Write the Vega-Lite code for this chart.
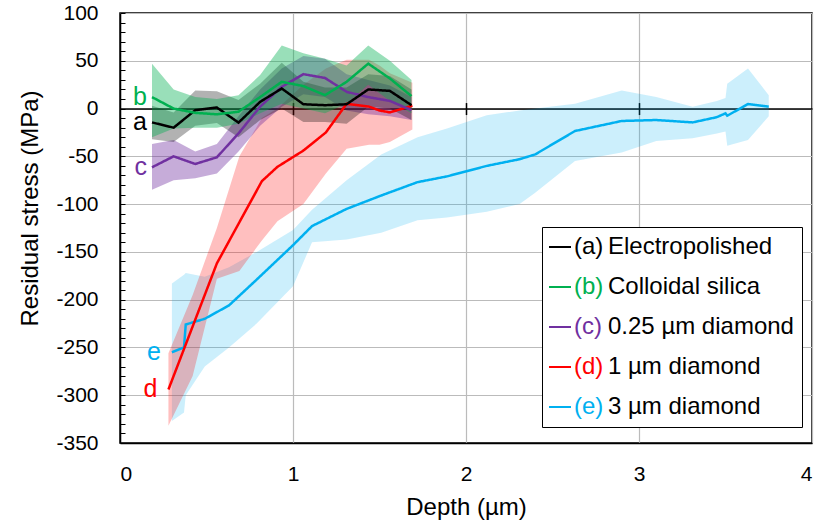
{
  "$schema": "https://vega.github.io/schema/vega-lite/v6.json",
  "width": 692,
  "height": 430,
  "autosize": {"type": "none"},
  "padding": {"left": 120, "top": 13, "right": 7, "bottom": 86},
  "background": "white",
  "config": {
    "view": {"stroke": "black", "strokeWidth": 1.5},
    "font": "Liberation Sans",
    "axis": {"labelFont": "Liberation Sans", "titleFont": "Liberation Sans", "labelColor": "#000000", "titleColor": "#000000", "titleFontWeight": "normal"},
    "legend": {"labelFont": "Liberation Sans", "titleFont": "Liberation Sans"}
  },
  "data": {
    "values": [
      {"s": "e", "x": 0.30, "y": -255, "lo": -327, "hi": -183},
      {"s": "e", "x": 0.37, "y": -250, "lo": -318, "hi": -174},
      {"s": "e", "x": 0.38, "y": -226, "lo": -300, "hi": -172},
      {"s": "e", "x": 0.49, "y": -220, "lo": -270, "hi": -176},
      {"s": "e", "x": 0.63, "y": -206, "lo": -250, "hi": -166},
      {"s": "e", "x": 0.79, "y": -179, "lo": -225, "hi": -150},
      {"s": "e", "x": 1.00, "y": -143, "lo": -186, "hi": -127},
      {"s": "e", "x": 1.11, "y": -123, "lo": -140, "hi": -106},
      {"s": "e", "x": 1.31, "y": -105, "lo": -137, "hi": -75},
      {"s": "e", "x": 1.51, "y": -91, "lo": -130, "hi": -48},
      {"s": "e", "x": 1.72, "y": -77, "lo": -117, "hi": -30},
      {"s": "e", "x": 1.89, "y": -71, "lo": -114, "hi": -21},
      {"s": "e", "x": 2.12, "y": -60, "lo": -108, "hi": -7},
      {"s": "e", "x": 2.31, "y": -53, "lo": -100, "hi": -2},
      {"s": "e", "x": 2.40, "y": -48, "lo": -88, "hi": 0},
      {"s": "e", "x": 2.63, "y": -23.5, "lo": -55, "hi": 5},
      {"s": "e", "x": 2.90, "y": -13, "lo": -46, "hi": 19},
      {"s": "e", "x": 3.10, "y": -12, "lo": -34, "hi": 12},
      {"s": "e", "x": 3.31, "y": -14.5, "lo": -31, "hi": 2},
      {"s": "e", "x": 3.45, "y": -9, "lo": -26, "hi": 8},
      {"s": "e", "x": 3.50, "y": -5, "lo": -24, "hi": 11},
      {"s": "e", "x": 3.51, "y": -7.5, "lo": -39, "hi": 26},
      {"s": "e", "x": 3.63, "y": 4.7, "lo": -33, "hi": 42},
      {"s": "e", "x": 3.75, "y": 2, "lo": -8, "hi": 14},
      {"s": "d", "x": 0.28, "y": -294, "lo": -332, "hi": -256},
      {"s": "d", "x": 0.42, "y": -228, "lo": -280, "hi": -195},
      {"s": "d", "x": 0.56, "y": -162, "lo": -178, "hi": -125},
      {"s": "d", "x": 0.69, "y": -119, "lo": -170, "hi": -50},
      {"s": "d", "x": 0.82, "y": -76, "lo": -138, "hi": -10},
      {"s": "d", "x": 0.91, "y": -61, "lo": -118, "hi": 0},
      {"s": "d", "x": 1.06, "y": -44, "lo": -100, "hi": 25},
      {"s": "d", "x": 1.19, "y": -25, "lo": -68, "hi": 42},
      {"s": "d", "x": 1.31, "y": 5, "lo": -42, "hi": 51},
      {"s": "d", "x": 1.44, "y": 2, "lo": -38, "hi": 51},
      {"s": "d", "x": 1.50, "y": -2, "lo": -38, "hi": 45},
      {"s": "d", "x": 1.56, "y": -4, "lo": -35, "hi": 37},
      {"s": "d", "x": 1.69, "y": 3, "lo": -22, "hi": 27},
      {"s": "c", "x": 0.185, "y": -61.5, "lo": -85, "hi": -37},
      {"s": "c", "x": 0.31, "y": -50, "lo": -75, "hi": -33},
      {"s": "c", "x": 0.435, "y": -58, "lo": -73, "hi": -45},
      {"s": "c", "x": 0.56, "y": -51, "lo": -68, "hi": -37},
      {"s": "c", "x": 0.685, "y": -26, "lo": -45, "hi": -8},
      {"s": "c", "x": 0.81, "y": 2, "lo": -18, "hi": 20},
      {"s": "c", "x": 0.935, "y": 22.7, "lo": 2, "hi": 42},
      {"s": "c", "x": 1.06, "y": 36, "lo": 15, "hi": 55},
      {"s": "c", "x": 1.185, "y": 32, "lo": 12, "hi": 52},
      {"s": "c", "x": 1.31, "y": 17.5, "lo": -2, "hi": 36},
      {"s": "c", "x": 1.435, "y": 12, "lo": -6, "hi": 30},
      {"s": "c", "x": 1.56, "y": 8, "lo": -8, "hi": 24},
      {"s": "c", "x": 1.685, "y": -1.7, "lo": -12, "hi": 12},
      {"s": "a", "x": 0.185, "y": -14.5, "lo": -32, "hi": 3},
      {"s": "a", "x": 0.31, "y": -20, "lo": -35, "hi": -4},
      {"s": "a", "x": 0.435, "y": -1.7, "lo": -18, "hi": 19},
      {"s": "a", "x": 0.56, "y": 1.1, "lo": -15, "hi": 18},
      {"s": "a", "x": 0.685, "y": -14.7, "lo": -30, "hi": 9},
      {"s": "a", "x": 0.81, "y": 7, "lo": -12, "hi": 26},
      {"s": "a", "x": 0.935, "y": 21, "lo": 0, "hi": 48},
      {"s": "a", "x": 1.06, "y": 4.5, "lo": -14, "hi": 28},
      {"s": "a", "x": 1.185, "y": 3.5, "lo": -14, "hi": 22},
      {"s": "a", "x": 1.31, "y": 4.5, "lo": -16, "hi": 22},
      {"s": "a", "x": 1.435, "y": 20, "lo": 2, "hi": 36},
      {"s": "a", "x": 1.56, "y": 18.5, "lo": 0, "hi": 34},
      {"s": "a", "x": 1.685, "y": 3.5, "lo": -12, "hi": 20},
      {"s": "b", "x": 0.185, "y": 12, "lo": -30, "hi": 47},
      {"s": "b", "x": 0.31, "y": 0, "lo": -21, "hi": 20},
      {"s": "b", "x": 0.435, "y": -4.5, "lo": -20, "hi": 12},
      {"s": "b", "x": 0.56, "y": -6, "lo": -20, "hi": 10},
      {"s": "b", "x": 0.685, "y": -3.3, "lo": -16, "hi": 14},
      {"s": "b", "x": 0.81, "y": 12, "lo": -5, "hi": 35},
      {"s": "b", "x": 0.935, "y": 28, "lo": 5, "hi": 66},
      {"s": "b", "x": 1.06, "y": 23.5, "lo": 0, "hi": 58},
      {"s": "b", "x": 1.185, "y": 14, "lo": -5, "hi": 52},
      {"s": "b", "x": 1.31, "y": 28, "lo": 5, "hi": 45},
      {"s": "b", "x": 1.435, "y": 47, "lo": 25, "hi": 66},
      {"s": "b", "x": 1.56, "y": 31.5, "lo": 8, "hi": 50},
      {"s": "b", "x": 1.685, "y": 13, "lo": -5, "hi": 30}
    ]
  },
  "resolve": {"axis": {"x": "independent"}},
  "layer": [
    {
      "mark": {"type": "area", "interpolate": "linear"},
      "encoding": {
        "x": {
          "field": "x", "type": "quantitative",
          "scale": {"domain": [0, 4], "nice": false, "zero": false},
          "axis": {
            "orient": "bottom", "values": [0, 1, 2, 3, 4], "format": "d", "tickCount": 100,
            "labelFontSize": 21, "labelPadding": 20, "ticks": false,
            "domainColor": "#000000", "domainWidth": 1.5,
            "grid": true, "gridColor": "#BBBBBB", "gridWidth": 1.2,
            "title": "Depth (µm)", "titleFontSize": 24, "titleY": 71, "titleBaseline": "alphabetic"
          }
        },
        "y": {
          "field": "lo", "type": "quantitative",
          "scale": {"domain": [-350, 100], "nice": false, "zero": false},
          "axis": {
            "title": "Residual stress (MPa)",
            "values": [-350, -340, -330, -320, -310, -300, -290, -280, -270, -260, -250, -240, -230, -220, -210, -200, -190, -180, -170, -160, -150, -140, -130, -120, -110, -100, -90, -80, -70, -60, -50, -40, -30, -20, -10, 0, 10, 20, 30, 40, 50, 60, 70, 80, 90, 100],
            "tickCount": 200,
            "labelExpr": "datum.value % 50 === 0 ? '' + datum.value : ''",
            "labelOverlap": false, "labelFontSize": 21, "labelPadding": 27,
            "tickSize": -5, "tickColor": "#000000", "tickWidth": 1,
            "domainColor": "#000000", "domainWidth": 1.5,
            "grid": true, "gridColor": "#BBBBBB", "gridWidth": 1.2,
            "gridOpacity": {"condition": {"test": "datum.value % 50 === 0", "value": 1}, "value": 0},
            "titleFontSize": 24, "titleX": -83, "titleY": 195, "titleBaseline": "alphabetic", "titleAngle": 270
          }
        },
        "y2": {"field": "hi"},
        "fill": {
          "field": "s", "type": "nominal",
          "scale": {"range": ["#000000", "#00B050", "#7030A0", "#FF0000", "#00B0F0"]},
          "legend": null
        },
        "fillOpacity": {
          "field": "s", "type": "nominal",
          "scale": {"type": "ordinal", "range": [0.3, 0.4, 0.4, 0.25, 0.2]},
          "legend": null
        }
      }
    },
    {
      "transform": [
        {"lookup": "s", "from": {"data": {"values": [
          {"s": "a", "n": "Electropolished"},
          {"s": "b", "n": "Colloidal silica"},
          {"s": "c", "n": "0.25 µm diamond"},
          {"s": "d", "n": "1 µm diamond"},
          {"s": "e", "n": "3 µm diamond"}
        ]}, "key": "s", "fields": ["n"]}}
      ],
      "mark": {"type": "line", "strokeWidth": 2.5},
      "encoding": {
        "x": {
          "field": "x", "type": "quantitative",
          "axis": {
            "orient": "top", "offset": -95.56, "values": [1, 2, 3], "tickCount": 100, "labels": false, "grid": false,
            "domain": true, "domainColor": "#000000", "domainWidth": 1.5,
            "ticks": true, "tickSize": 6, "tickColor": "#000000", "tickWidth": 1.5, "title": null
          }
        },
        "y": {"field": "y", "type": "quantitative"},
        "color": {
          "field": "n", "type": "nominal",
          "scale": {"domain": ["Electropolished", "Colloidal silica", "0.25 µm diamond", "1 µm diamond", "3 µm diamond"], "range": ["#000000", "#00B050", "#7030A0", "#FF0000", "#00B0F0"]},
          "legend": {
            "title": null, "orient": "none", "legendX": 422, "legendY": 214,
            "padding": 8, "strokeColor": "#000000", "fillColor": "#FFFFFF",
            "symbolType": "stroke", "symbolSize": 4, "symbolOpacity": 0, "symbolStrokeWidth": 0,
            "labelFontSize": 24, "labelOffset": 34, "labelLimit": 400, "rowPadding": 16, "labelColor": "#000000"
          }
        },
        "detail": {"field": "s"},
        "strokeDash": {
          "field": "s", "type": "nominal",
          "scale": {"domain": ["a", "b", "c", "d", "e"], "range": [[1, 0], [1, 0], [1, 0], [1, 0], [1, 0]]},
          "legend": {
            "title": null, "orient": "none", "legendX": 420, "legendY": 214,
            "padding": 8, "symbolType": "stroke", "symbolSize": 484, "symbolStrokeWidth": 2, "symbolOpacity": 1,
            "labelFontSize": 24, "labelOffset": 2, "labelLimit": 400, "rowPadding": 16,
            "labelExpr": "'(' + datum.label + ')'",
            "encode": {
              "symbols": {"update": {
                "stroke": {"signal": "datum.value === 'a' ? '#000000' : datum.value === 'b' ? '#00B050' : datum.value === 'c' ? '#7030A0' : datum.value === 'd' ? '#FF0000' : '#00B0F0'"},
                "strokeDash": {"value": [1, 0]},
                "opacity": {"value": 1}
              }},
              "labels": {"update": {
                "fill": {"signal": "datum.value === 'a' ? '#000000' : datum.value === 'b' ? '#00B050' : datum.value === 'c' ? '#7030A0' : datum.value === 'd' ? '#FF0000' : '#00B0F0'"}
              }}
            }
          }
        }
      }
    },
    {
      "transform": [
        {"joinaggregate": [{"op": "min", "field": "x", "as": "x0"}], "groupby": ["s"]},
        {"filter": "datum.x === datum.x0 && indexof(['a','b','c'], datum.s) >= 0"}
      ],
      "mark": {"type": "text", "align": "right", "baseline": "middle", "dx": -5, "fontSize": 25, "font": "Liberation Sans"},
      "encoding": {
        "x": {
          "field": "x", "type": "quantitative",
          "axis": {
            "orient": "bottom", "offset": -334.44, "values": [1, 2, 3], "tickCount": 100, "labels": false, "grid": false,
            "domain": false, "ticks": true, "tickSize": 6, "tickColor": "#000000", "tickWidth": 1.5, "title": null
          }
        },
        "y": {"field": "y", "type": "quantitative"},
        "text": {"field": "s"},
        "fill": {"field": "s", "type": "nominal", "legend": null}
      }
    },
    {
      "transform": [
        {"joinaggregate": [{"op": "min", "field": "x", "as": "x0"}], "groupby": ["s"]},
        {"filter": "datum.x === datum.x0 && indexof(['d','e'], datum.s) >= 0"}
      ],
      "mark": {"type": "text", "align": "right", "baseline": "middle", "dx": -11, "fontSize": 25, "font": "Liberation Sans"},
      "encoding": {
        "x": {"field": "x", "type": "quantitative", "axis": null},
        "y": {"field": "y", "type": "quantitative"},
        "text": {"field": "s"},
        "fill": {"field": "s", "type": "nominal", "legend": null}
      }
    }
  ]
}
